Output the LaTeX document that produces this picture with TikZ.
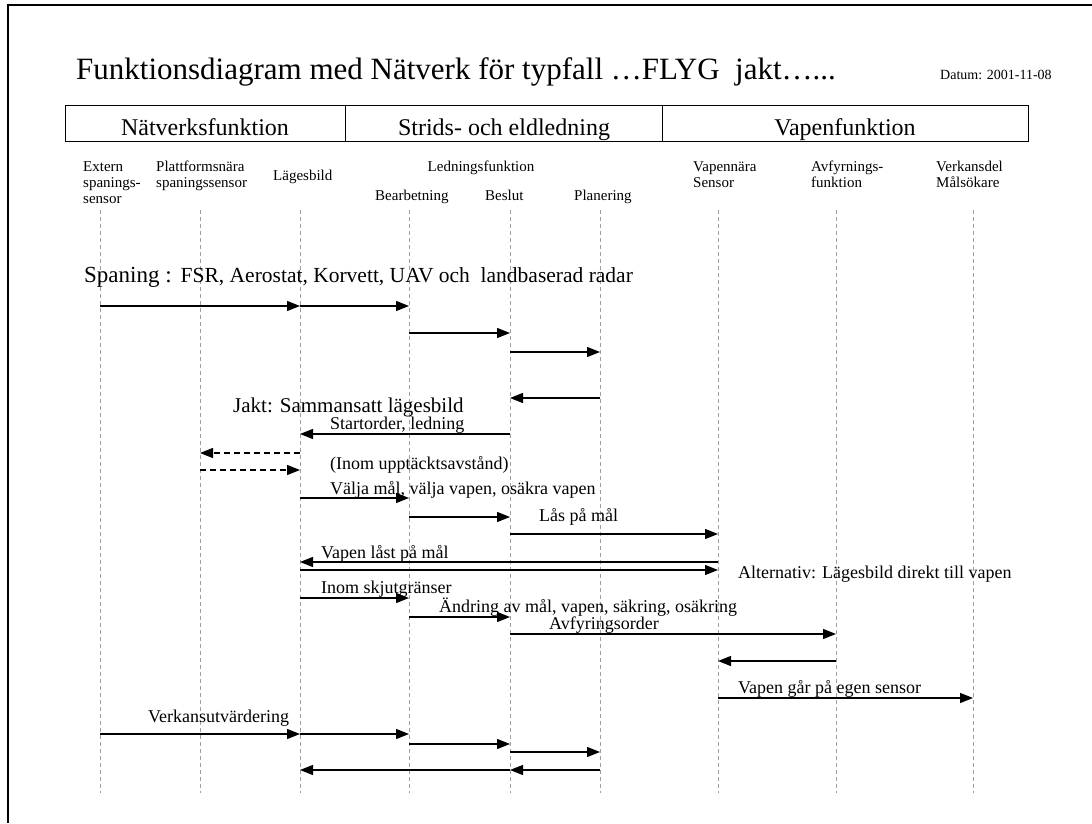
\documentclass[tikz,border=0pt]{standalone}
\usepackage{fontspec}
\setmainfont{Liberation Serif}
\usetikzlibrary{arrows.meta}
\newcommand{\fs}[1]{\fontsize{#1}{#1}\selectfont}
\begin{document}
\begin{tikzpicture}[x=1pt,y=-1pt,
  lifeline/.style={draw=gray!75, line width=0.7pt, dash pattern=on 4pt off 3pt},
  msg/.style={-{Triangle[length=13pt,width=10pt]}, line width=1.2pt},
  dmsg/.style={msg, dash pattern=on 6pt off 4pt},
  txt/.style={anchor=base west, inner sep=0pt, font=\fs{18}},
  lbl/.style={anchor=base west, inner sep=0pt, font=\fs{15}, align=left},
  head/.style={anchor=base, inner sep=0pt, font=\fs{24}}]
\useasboundingbox (0,0) rectangle (1092,823);
% page frame (left and top edges)
\draw[line width=2pt] (7.5,823) -- (7.5,5) -- (1092,5);

% title
\node[anchor=base west, inner sep=0pt, font=\fs{31}] (title) at (76,79)
  {Funktionsdiagram med Nätverk för typfall …FLYG\ \ jakt…...};
\node[anchor=base west, inner sep=0pt, font=\fs{14}] (datum) at (940,79) {Datum: 2001-11-08};

% function header table
\draw[line width=1pt] (65,105) rectangle (1028,141);
\draw[line width=1pt] (345,105) -- (345,141) (662,105) -- (662,141);
\node[head] (h1) at (205,135) {Nätverksfunktion};
\node[head] (h2) at (504,135) {Strids- och eldledning};
\node[head] (h3) at (845,135) {Vapenfunktion};

% column labels
\node[lbl] (n1) at (83,171) {Extern};
\node[lbl] at (83,187) {spanings-};
\node[lbl] at (83,203) {sensor};
\node[lbl] (n2) at (156,171) {Plattformsnära};
\node[lbl] at (156,187) {spaningssensor};
\node[lbl] (n3) at (273,180) {Lägesbild};
\node[lbl, anchor=base] (led) at (481,171) {Ledningsfunktion};
\node[lbl] (n4) at (375,200) {Bearbetning};
\node[lbl] (n5) at (485,200) {Beslut};
\node[lbl] (n6) at (574,200) {Planering};
\node[lbl] (n7) at (693,171) {Vapennära};
\node[lbl] at (693,187) {Sensor};
\node[lbl] (n8) at (811,171) {Avfyrnings-};
\node[lbl] at (811,187) {funktion};
\node[lbl] (n9) at (936,171) {Verkansdel};
\node[lbl] at (936,187) {Målsökare};

% lifelines
\foreach \i/\x in {1/100,2/200,3/300,4/409,5/510,6/600,7/718,8/836,9/973}{
  \coordinate (L\i) at (\x,210);
  \coordinate (E\i) at (\x,793);
  \draw[lifeline] (L\i) -- (E\i);
}
\newcommand{\msgto}[4][msg]{\draw[#1] (L#3 |- 0,#2) -- (L#4 |- 0,#2);}

% reconnaissance
\node[anchor=base west, inner sep=0pt] (spaning) at (84,282)
  {{\fs{23}Spaning :}\hspace{9pt}{\fs{21.5}FSR, Aerostat, Korvett, UAV och\ \ landbaserad radar}};
\msgto{306}{1}{3}
\msgto{306}{3}{4}
\msgto{333}{4}{5}
\msgto{352}{5}{6}
\msgto{398}{6}{5}

% engagement
\node[anchor=base west, inner sep=0pt, font=\fs{21}] (jakt) at (233,412) {Jakt: Sammansatt lägesbild};
\node[txt] (t1) at (330,429) {Startorder, ledning};
\msgto{434}{5}{3}
\msgto[dmsg]{453}{3}{2}
\msgto[dmsg]{470}{2}{3}
\node[txt] (t2) at (330,469) {(Inom upptäcktsavstånd)};
\node[txt] (t3) at (330,494) {Välja mål, välja vapen, osäkra vapen};
\msgto{498}{3}{4}
\msgto{517}{4}{5}
\node[txt] (t4) at (539,521) {Lås på mål};
\msgto{534}{5}{7}
\node[txt] (t5) at (321,558) {Vapen låst på mål};
\msgto{562}{7}{3}
\msgto{570}{3}{7}
\node[txt] (t6) at (738,578) {Alternativ: Lägesbild direkt till vapen};
\node[txt] (t7) at (321,593) {Inom skjutgränser};
\msgto{598}{3}{4}
\node[txt] (t8) at (439,612) {Ändring av mål, vapen, säkring, osäkring};
\msgto{617}{4}{5}
\node[txt] (t9) at (549,629) {Avfyringsorder};
\msgto{634}{5}{8}
\msgto{661}{8}{7}
\node[txt] (t10) at (738,693) {Vapen går på egen sensor};
\msgto{698}{7}{9}

% effect assessment
\node[txt] (t11) at (148,722) {Verkansutvärdering};
\msgto{734}{1}{3}
\msgto{734}{3}{4}
\msgto{744}{4}{5}
\msgto{752}{5}{6}
\msgto{770}{6}{5}
\msgto{770}{5}{3}
\end{tikzpicture}
\end{document}
